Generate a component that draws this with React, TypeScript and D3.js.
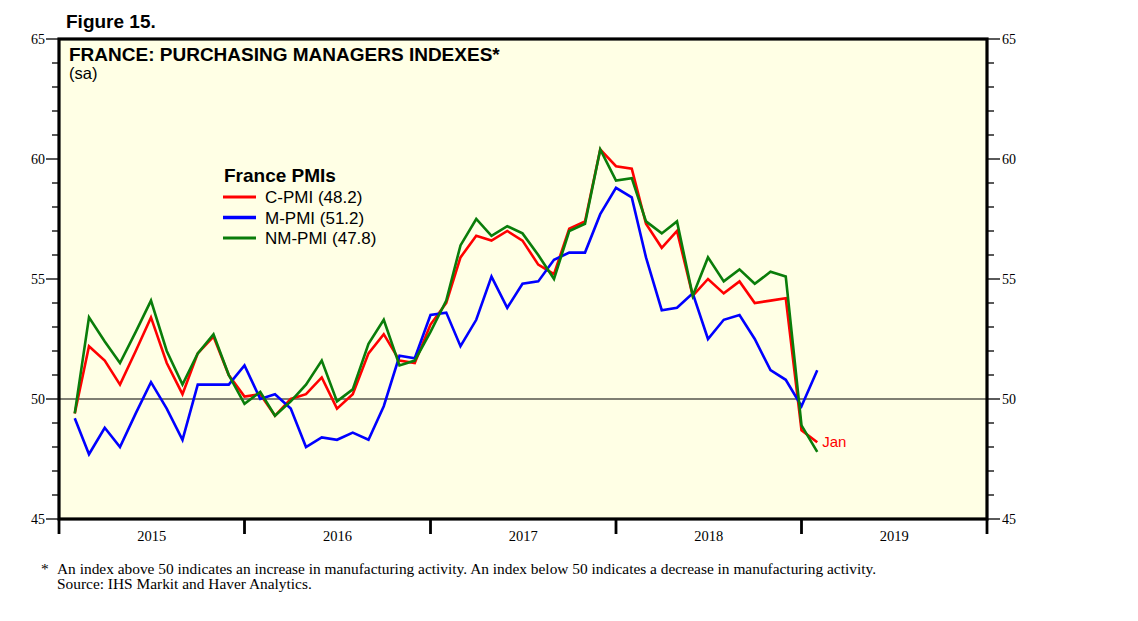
import React from 'react';
import * as d3 from 'd3';

// ---- Data (monthly, Jan 2015 – Jan 2019) ----
const startYear = 2015;
const yearLabels = ['2015', '2016', '2017', '2018', '2019'];
const yMajorTicks = [45, 50, 55, 60, 65];

const cPmi = [
  49.4, 52.2, 51.6, 50.6, 52.0, 53.4, 51.5, 50.2, 51.9, 52.6, 51.0, 50.1,
  50.2, 49.3, 50.0, 50.2, 50.9, 49.6, 50.2, 51.9, 52.7, 51.6, 51.5, 53.1,
  54.0, 55.9, 56.8, 56.6, 57.0, 56.6, 55.6, 55.2, 57.1, 57.4, 60.4, 59.7,
  59.6, 57.3, 56.3, 57.0, 54.3, 55.0, 54.4, 54.9, 54.0, 54.1, 54.2, 48.7,
  48.2,
];
const mPmi = [
  49.2, 47.7, 48.8, 48.0, 49.4, 50.7, 49.6, 48.3, 50.6, 50.6, 50.6, 51.4,
  50.0, 50.2, 49.6, 48.0, 48.4, 48.3, 48.6, 48.3, 49.7, 51.8, 51.7, 53.5,
  53.6, 52.2, 53.3, 55.1, 53.8, 54.8, 54.9, 55.8, 56.1, 56.1, 57.7, 58.8,
  58.4, 55.9, 53.7, 53.8, 54.4, 52.5, 53.3, 53.5, 52.5, 51.2, 50.8, 49.7,
  51.2,
];
const nmPmi = [
  49.4, 53.4, 52.4, 51.5, 52.8, 54.1, 52.0, 50.6, 51.9, 52.7, 51.0, 49.8,
  50.3, 49.3, 49.9, 50.6, 51.6, 49.9, 50.4, 52.3, 53.3, 51.4, 51.6, 52.8,
  54.1, 56.4, 57.5, 56.8, 57.2, 56.9, 56.0, 55.0, 57.0, 57.3, 60.4, 59.1,
  59.2, 57.4, 56.9, 57.4, 54.3, 55.9, 54.9, 55.4, 54.8, 55.3, 55.1, 48.9,
  47.8,
];

const seriesNames = ['C-PMI', 'M-PMI', 'NM-PMI'];
const seriesColors = ['#FF0000', '#0000FF', '#0A7D0A'];
const seriesData = [cPmi, mPmi, nmPmi];

const SANS = '"Liberation Sans", Arial, sans-serif';
const SERIF = '"Liberation Serif", "Times New Roman", serif';

// month i plotted at end of month (= first day of following month)
const monthDate = (i: number) => new Date(startYear, i + 1, 1);

export default function App() {
  const W = 1138;
  const H = 621;
  const L = 59, R = 987, T = 39, B = 519;

  const x = d3
    .scaleTime()
    .domain([new Date(startYear, 0, 1), new Date(startYear + yearLabels.length, 0, 1)])
    .range([L, R]);
  const y = d3.scaleLinear().domain([45, 65]).range([B, T]);

  const line = d3
    .line<number>()
    .x((_, i) => x(monthDate(i)))
    .y((d) => y(d));

  const minorTicks = d3.range(45, 66, 1);
  const yearBounds = d3.range(0, yearLabels.length + 1).map((k) => new Date(startYear + k, 0, 1));

  const lastIdx = cPmi.length - 1;

  return (
    <svg
      width={W}
      height={H}
      style={{ position: 'absolute', left: 0, top: 0, display: 'block', background: '#fff' }}
    >
      <text x={66} y={28} fontFamily={SANS} fontWeight="bold" fontSize={19} fill="#000">
        Figure 15.
      </text>

      {/* plot background */}
      <rect x={L} y={T} width={R - L} height={B - T} fill="#FFFFE5" />

      {/* 50 reference line */}
      <line x1={L} x2={R} y1={y(50)} y2={y(50)} stroke="#000" strokeWidth={1.2} />

      {/* series */}
      {seriesData.map((vals, k) => (
        <path
          key={seriesNames[k]}
          d={line(vals) || ''}
          fill="none"
          stroke={seriesColors[k]}
          strokeWidth={2.6}
          strokeLinejoin="miter"
        />
      ))}

      {/* Jan label */}
      <text
        x={x(monthDate(lastIdx)) + 5}
        y={y(cPmi[lastIdx]) + 5}
        fontFamily={SANS}
        fontSize={15}
        fill="#FF0000"
      >
        Jan
      </text>

      {/* frame */}
      <rect x={L} y={T} width={R - L} height={B - T} fill="none" stroke="#000" strokeWidth={3.2} />

      {/* y ticks left & right */}
      {minorTicks.map((v) => {
        const major = v % 5 === 0;
        const len = major ? 13 : 7;
        return (
          <g key={'t' + v}>
            <line x1={L - len} x2={L} y1={y(v)} y2={y(v)} stroke="#000" strokeWidth={1.3} />
            <line x1={R} x2={R + len} y1={y(v)} y2={y(v)} stroke="#000" strokeWidth={1.3} />
          </g>
        );
      })}
      {yMajorTicks.map((v) => (
        <g key={'l' + v}>
          <text
            x={45}
            y={y(v)}
            dy="0.35em"
            textAnchor="end"
            fontFamily={SERIF}
            fontSize={14}
            fill="#000"
          >
            {v}
          </text>
          <text x={1002} y={y(v)} dy="0.35em" fontFamily={SERIF} fontSize={14} fill="#000">
            {v}
          </text>
        </g>
      ))}

      {/* x axis year ticks & labels */}
      {yearBounds.map((d, k) => (
        <line
          key={'yb' + k}
          x1={x(d)}
          x2={x(d)}
          y1={B}
          y2={B + 15}
          stroke="#000"
          strokeWidth={2.8}
        />
      ))}
      {yearLabels.map((lab, k) => {
        const cx = (x(yearBounds[k]) + x(yearBounds[k + 1])) / 2;
        return (
          <text
            key={lab}
            x={cx}
            y={541}
            textAnchor="middle"
            fontFamily={SERIF}
            fontSize={14.5}
            fill="#000"
          >
            {lab}
          </text>
        );
      })}

      {/* titles inside */}
      <text x={69} y={60.5} fontFamily={SANS} fontWeight="bold" fontSize={19} fill="#000">
        FRANCE: PURCHASING MANAGERS INDEXES*
      </text>
      <text x={69} y={79} fontFamily={SANS} fontSize={16.5} fill="#000">
        (sa)
      </text>

      {/* legend */}
      <text x={224} y={182} fontFamily={SANS} fontWeight="bold" fontSize={19} fill="#000">
        France PMIs
      </text>
      {seriesNames.map((name, k) => {
        const ly = 197 + k * 20.5;
        const vals = seriesData[k];
        return (
          <g key={'lg' + name}>
            <line x1={223} x2={256} y1={ly} y2={ly} stroke={seriesColors[k]} strokeWidth={k === 1 ? 3.6 : 3} />
            <text x={265} y={ly + 6} fontFamily={SANS} fontSize={17} fill="#000">
              {`${name} (${vals[vals.length - 1].toFixed(1)})`}
            </text>
          </g>
        );
      })}

      {/* footnote */}
      <text x={41} y={574} fontFamily={SERIF} fontSize={15.4} fill="#000">
        *
      </text>
      <text x={57} y={574} fontFamily={SERIF} fontSize={15.4} fill="#000">
        An index above 50 indicates an increase in manufacturing activity. An index below 50 indicates a decrease in manufacturing activity.
      </text>
      <text x={57} y={589} fontFamily={SERIF} fontSize={15.4} fill="#000">
        Source: IHS Markit and Haver Analytics.
      </text>
    </svg>
  );
}
